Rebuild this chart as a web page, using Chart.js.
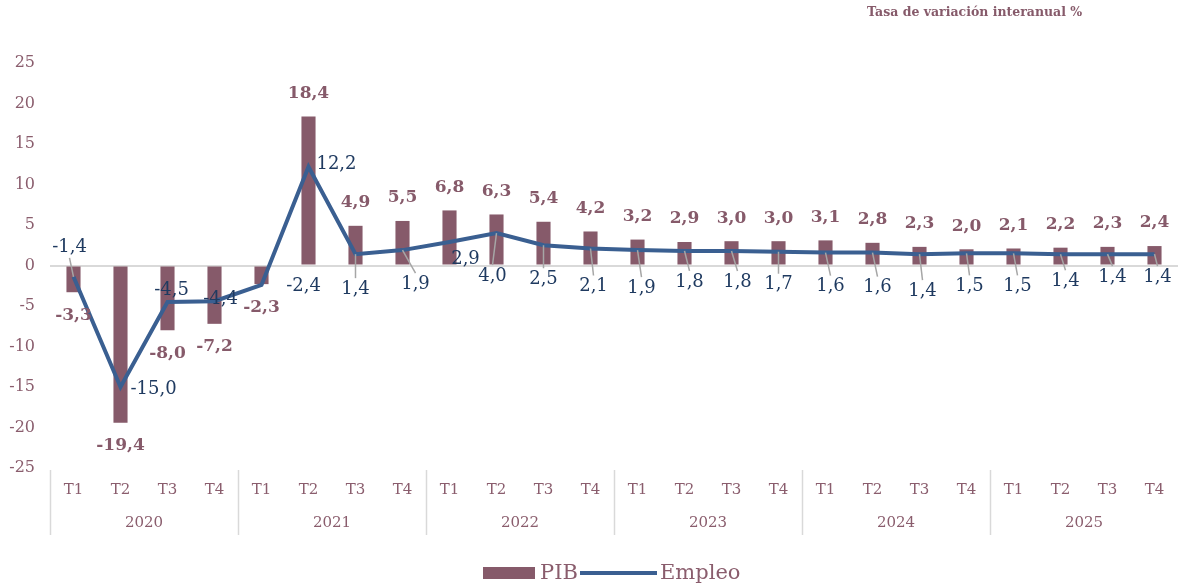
<!DOCTYPE html>
<html>
<head>
<meta charset="utf-8">
<script src="https://cdn.jsdelivr.net/npm/chart.js@4.4.1/dist/chart.umd.min.js"></script>
<style>
  html, body { margin: 0; padding: 0; background: #fff; }
  #wrap { width: 1178px; height: 587px; position: relative; }
</style>
</head>
<body>
<div id="wrap"><canvas id="chart"></canvas></div>
<script>
// Datos: tasa de variación interanual (%)
const years = ['2020', '2021', '2022', '2023', '2024', '2025'];
const quarters = ['T1', 'T2', 'T3', 'T4'];
const labels = years.flatMap(() => quarters);

const pib = [-3.3, -19.4, -8.0, -7.2, -2.3, 18.4, 4.9, 5.5, 6.8, 6.3, 5.4, 4.2,
             3.2, 2.9, 3.0, 3.0, 3.1, 2.8, 2.3, 2.0, 2.1, 2.2, 2.3, 2.4];
const empleo = [-1.4, -15.0, -4.5, -4.4, -2.4, 12.2, 1.4, 1.9, 2.9, 4.0, 2.5, 2.1,
                1.9, 1.8, 1.8, 1.7, 1.6, 1.6, 1.4, 1.5, 1.5, 1.4, 1.4, 1.4];

const yTicks = [-25, -20, -15, -10, -5, 0, 5, 10, 15, 20, 25];

const COLORS = {
  bar: '#865A6A',
  line: '#3A5F91',
  lineText: '#1F3A60',
  axisText: '#8A5D6D',
  grid: '#D9D9D9',
  leader: '#A6A6A6'
};
const FONT = "'DejaVu Serif', serif";

// desplazamiento manual de las etiquetas de Empleo (como en la hoja original)
const empleoLabelShift = [
  [-4, -30], [33, 2], [4, -12], [6, -2], [42, 1], [28, -2], [0, 35], [13, 34],
  [16, 17], [-4, 43], [0, 34], [3, 38], [4, 38], [5, 31], [6, 31], [0, 33],
  [5, 34], [5, 35], [3, 37], [3, 33], [4, 33], [5, 27], [5, 23], [3, 23]
];

const fmt = v => v.toFixed(1).replace('.', ',');

const labelPlugin = {
  id: 'labelPlugin',
  afterDatasetsDraw(chart) {
    const ctx = chart.ctx;
    const barMeta = chart.getDatasetMeta(0);
    const lineMeta = chart.getDatasetMeta(1);
    ctx.save();
    ctx.textAlign = 'center';
    ctx.textBaseline = 'middle';

    // etiquetas PIB
    ctx.font = 'bold 17px ' + FONT;
    ctx.fillStyle = COLORS.bar;
    barMeta.data.forEach((bar, i) => {
      const v = pib[i];
      const y = v >= 0 ? bar.y - 23 : bar.y + 23;
      ctx.fillText(fmt(v), bar.x, y);
    });

    // etiquetas Empleo con líneas guía
    ctx.font = '18px ' + FONT;
    lineMeta.data.forEach((pt, i) => {
      const [dx, dy] = empleoLabelShift[i];
      const lx = pt.x + dx;
      const ly = pt.y + dy;
      if (Math.abs(dy) >= 20 && Math.abs(dx) < 20) {
        ctx.strokeStyle = COLORS.leader;
        ctx.lineWidth = 1.5;
        ctx.beginPath();
        ctx.moveTo(pt.x, pt.y);
        ctx.lineTo(lx, dy > 0 ? ly - 11 : ly + 11);
        ctx.stroke();
      }
      ctx.fillStyle = COLORS.lineText;
      ctx.fillText(fmt(empleo[i]), lx, ly);
    });
    ctx.restore();
  },
  afterDraw(chart) {
    const ctx = chart.ctx;
    const xs = chart.scales.x;
    const area = chart.chartArea;
    const step = xs.getPixelForValue(1) - xs.getPixelForValue(0);
    ctx.save();

    // separadores de año y etiquetas
    ctx.strokeStyle = COLORS.grid;
    ctx.lineWidth = 1.5;
    ctx.fillStyle = COLORS.axisText;
    ctx.font = '15px ' + FONT;
    ctx.textAlign = 'center';
    ctx.textBaseline = 'middle';
    years.forEach((yr, g) => {
      const x0 = xs.getPixelForValue(g * 4) - step / 2;
      const x1 = xs.getPixelForValue(g * 4 + 3) + step / 2;
      ctx.beginPath();
      ctx.moveTo(Math.round(x0) + 0.5, area.bottom + 2);
      ctx.lineTo(Math.round(x0) + 0.5, area.bottom + 67);
      ctx.stroke();
      ctx.fillText(yr, (x0 + x1) / 2, area.bottom + 55);
    });

    // título
    ctx.font = 'bold 12.5px ' + FONT;
    ctx.fillStyle = COLORS.bar;
    ctx.textAlign = 'left';
    ctx.fillText('Tasa de variación interanual %', 867, 13);

    // leyenda
    ctx.fillStyle = COLORS.bar;
    ctx.fillRect(483, 567, 52, 12);
    ctx.font = '21px ' + FONT;
    ctx.fillStyle = COLORS.axisText;
    ctx.fillText('PIB', 540, 574);
    ctx.strokeStyle = COLORS.line;
    ctx.lineWidth = 4;
    ctx.beginPath();
    ctx.moveTo(580, 573);
    ctx.lineTo(657, 573);
    ctx.stroke();
    ctx.fillText('Empleo', 660, 574);
    ctx.restore();
  }
};

new Chart(document.getElementById('chart'), {
  type: 'bar',
  data: {
    labels: labels,
    datasets: [
      {
        type: 'bar',
        label: 'PIB',
        data: pib,
        backgroundColor: COLORS.bar,
        barPercentage: 0.3,
        categoryPercentage: 1,
        order: 1
      },
      {
        type: 'line',
        label: 'Empleo',
        data: empleo,
        borderColor: COLORS.line,
        backgroundColor: COLORS.line,
        borderWidth: 4,
        pointRadius: 0,
        tension: 0,
        order: 0
      }
    ]
  },
  options: {
    responsive: true,
    maintainAspectRatio: false,
    animation: false,
    layout: { padding: { top: 63, right: 0, bottom: 0, left: 0 } },
    plugins: {
      legend: { display: false },
      tooltip: { enabled: false }
    },
    scales: {
      x: {
        grid: { display: false, drawTicks: false },
        border: { display: false },
        ticks: { color: COLORS.axisText, font: { family: FONT, size: 15 }, padding: 13, maxRotation: 0, autoSkip: false },
        afterFit: s => { s.height = 119; }
      },
      y: {
        min: -25,
        max: 25,
        afterBuildTicks: s => { s.ticks = yTicks.map(v => ({ value: v })); },
        grid: {
          drawTicks: false,
          color: c => c.tick && c.tick.value === 0 ? COLORS.grid : 'rgba(0,0,0,0)',
          lineWidth: 2
        },
        border: { display: false },
        ticks: { color: COLORS.axisText, font: { family: FONT, size: 16 }, padding: 15 },
        afterFit: s => { s.width = 50; }
      }
    }
  },
  plugins: [labelPlugin]
});
</script>
</body>
</html>
